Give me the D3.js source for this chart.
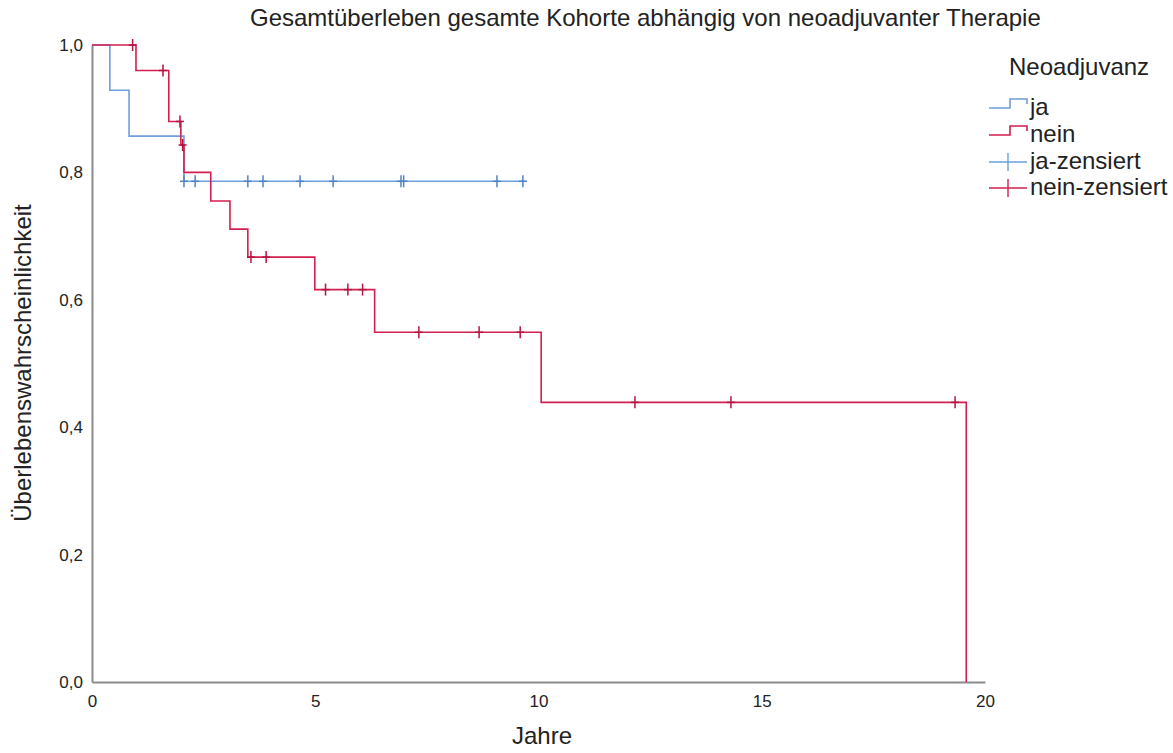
<!DOCTYPE html>
<html>
<head>
<meta charset="utf-8">
<script src="https://cdn.jsdelivr.net/npm/d3@7"></script>
<style>
  html, body { margin: 0; padding: 0; background: #fff; }
  svg text { font-family: "Liberation Sans", Arial, sans-serif; fill: #222; }
</style>
</head>
<body>
<svg id="chart" width="1173" height="753"></svg>
<script>
// Kaplan-Meier step data (time in years, survival after the step)
const jaStepTimes = [0, 0.40, 0.83, 2.06];
const jaStepSurv  = [1.0, 0.929, 0.857, 0.786];
const jaEndTime   = 9.72;
const jaCensorTimes = [2.06, 2.31, 3.49, 3.83, 4.66, 5.40, 6.92, 6.98, 9.07, 9.65];

const neinStepTimes = [0, 0.985, 1.72, 1.99, 2.06, 2.66, 3.09, 3.49, 4.99, 6.33, 10.06, 19.58];
const neinStepSurv  = [1.0, 0.96, 0.88, 0.843, 0.80, 0.755, 0.711, 0.667, 0.616, 0.549, 0.439, 0.0];
const neinEndTime   = 19.58;
const neinCensorTimes = [0.91, 1.59, 1.97, 2.03, 3.56, 3.90, 5.23, 5.73, 6.06, 7.32, 8.67, 9.59, 12.16, 14.31, 19.33];

const xTicks = [0, 5, 10, 15, 20];
const yTicks = [0, 0.2, 0.4, 0.6, 0.8, 1.0];

const groupNames = ["ja", "nein"];
const legendLabels = ["ja", "nein", "ja-zensiert", "nein-zensiert"];

const colors = { ja: "#6d9fdc", nein: "#d21f4f" };
const censorColors = { ja: "#4f84c4", nein: "#b41440" };

const svg = d3.select("#chart");
const x = d3.scaleLinear().domain([0, 20]).range([92, 985]);
const y = d3.scaleLinear().domain([0, 1]).range([682, 45]);

// Title
svg.append("text")
  .attr("x", 250).attr("y", 26)
  .style("font-size", "24px")
  .text("Gesamtüberleben gesamte Kohorte abhängig von neoadjuvanter Therapie");

// Axes
const fmt = d => d3.format(".1f")(d).replace(".", ",");
const xAxis = svg.append("g").attr("transform", `translate(0,${y(0)})`)
  .call(d3.axisBottom(x).tickValues(xTicks).tickSize(0).tickPadding(12).tickFormat(d3.format("d")));
const yAxis = svg.append("g").attr("transform", `translate(${x(0)},0)`)
  .call(d3.axisLeft(y).tickValues(yTicks).tickSize(0).tickPadding(9).tickFormat(fmt));
[xAxis, yAxis].forEach(g => {
  g.select(".domain").attr("stroke", "#8c8c8c").attr("stroke-width", 2);
  g.selectAll("text").style("font-size", "17px").style("font-family", "Liberation Sans, Arial, sans-serif").attr("fill", "#222");
});
xAxis.selectAll("text").attr("dy", "0.75em");

// Axis titles
svg.append("text")
  .attr("x", 542).attr("y", 744)
  .attr("text-anchor", "middle")
  .style("font-size", "24px")
  .text("Jahre");
svg.append("text")
  .attr("transform", "translate(31,363) rotate(-90)")
  .attr("text-anchor", "middle")
  .style("font-size", "24px")
  .text("Überlebenswahrscheinlichkeit");

// Step curves
function stepPoints(times, surv, endTime) {
  const pts = times.map((t, i) => [t, surv[i]]);
  const last = pts[pts.length - 1];
  if (endTime > last[0]) pts.push([endTime, last[1]]);
  return pts;
}
function survAt(times, surv, t) {
  let s = surv[0];
  for (let i = 0; i < times.length; i++) if (times[i] <= t) s = surv[i];
  return s;
}
const line = d3.line().x(d => x(d[0])).y(d => y(d[1])).curve(d3.curveStepAfter);

const groups = [
  { key: "ja", times: jaStepTimes, surv: jaStepSurv, end: jaEndTime, censor: jaCensorTimes },
  { key: "nein", times: neinStepTimes, surv: neinStepSurv, end: neinEndTime, censor: neinCensorTimes }
];

groups.forEach(g => {
  svg.append("path")
    .datum(stepPoints(g.times, g.surv, g.end))
    .attr("fill", "none")
    .attr("stroke", colors[g.key])
    .attr("stroke-width", 1.6)
    .attr("d", line);
});

// Censor marks
groups.forEach(g => {
  const marks = svg.append("g");
  g.censor.forEach(t => {
    let s = survAt(g.times, g.surv, t);
    const idx = g.times.indexOf(t);
    if (idx > 0 && g.key === "nein") s = g.surv[idx - 1];
    const cx = x(t), cy = y(s);
    marks.append("line").attr("x1", cx).attr("x2", cx).attr("y1", cy - 6).attr("y2", cy + 6)
      .attr("stroke", censorColors[g.key]).attr("stroke-width", 1.5);
    marks.append("line").attr("x1", cx - 4).attr("x2", cx + 4).attr("y1", cy).attr("y2", cy)
      .attr("stroke", censorColors[g.key]).attr("stroke-width", 1.5);
  });
});

// Legend
const lg = svg.append("g");
lg.append("text").attr("x", 1009).attr("y", 75).style("font-size", "24px").text("Neoadjuvanz");
const rowY = [108, 135, 162, 188];
legendLabels.forEach((label, i) => {
  const key = groupNames[i % 2];
  const cy = rowY[i];
  if (i < 2) {
    lg.append("path")
      .attr("d", `M989,${cy} H1010 V${cy - 9} H1027 V${cy - 4}`)
      .attr("fill", "none").attr("stroke", colors[key]).attr("stroke-width", 1.6);
  } else {
    lg.append("line").attr("x1", 989).attr("x2", 1027).attr("y1", cy).attr("y2", cy)
      .attr("stroke", colors[key]).attr("stroke-width", 1.4);
    lg.append("line").attr("x1", 1008).attr("x2", 1008).attr("y1", cy - 9).attr("y2", cy + 9)
      .attr("stroke", colors[key]).attr("stroke-width", 1.4);
  }
  lg.append("text").attr("x", 1030).attr("y", cy + 7).style("font-size", "24px").text(label);
});
</script>
</body>
</html>
